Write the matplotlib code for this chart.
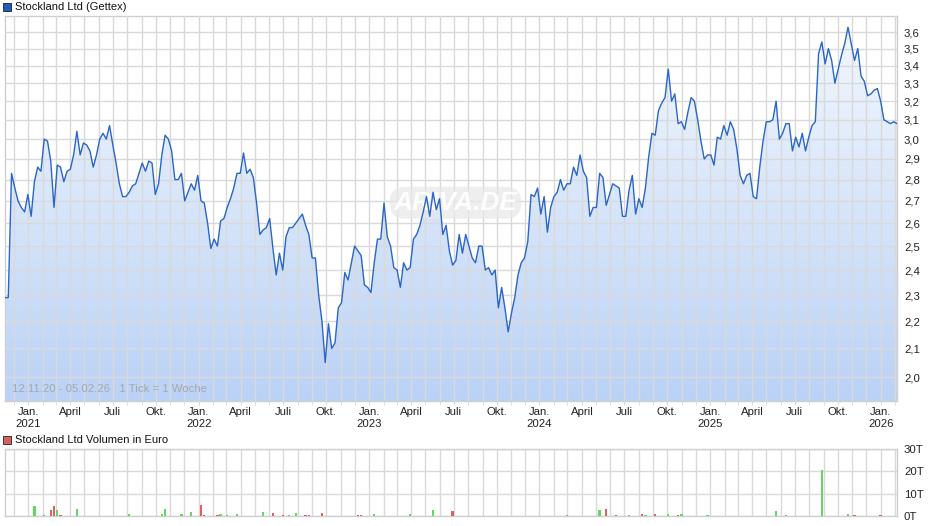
import numpy as np
import matplotlib
matplotlib.use("Agg")
import matplotlib.pyplot as plt
import matplotlib.dates as mdates
from matplotlib.patches import Polygon, Rectangle
from matplotlib.ticker import FixedLocator, NullFormatter
import datetime as dt

plt.rcParams['font.family'] = ['Liberation Sans', 'DejaVu Sans']

# ---------------- data ----------------
start_date = "2020-11-12"
n_weeks = 274
prices = [
    2.29, 2.29, 2.83, 2.76, 2.70, 2.67, 2.65, 2.73, 2.63, 2.79, 2.86, 2.84, 3.00, 2.99, 2.89, 2.67,
    2.87, 2.86, 2.79, 2.84, 2.85, 2.92, 3.04, 2.92, 2.98, 2.97, 2.94, 2.86, 2.92, 3.00, 3.03, 3.00,
    3.07, 2.97, 2.88, 2.78, 2.72, 2.72, 2.74, 2.77, 2.78, 2.83, 2.88, 2.84, 2.89, 2.88,
    2.73, 2.78, 2.92, 3.02, 3.00, 2.94, 2.80, 2.80, 2.83, 2.70, 2.74, 2.78, 2.75, 2.82, 2.70, 2.69,
    2.60, 2.49, 2.53, 2.50, 2.61, 2.62, 2.67, 2.71, 2.76, 2.83, 2.83, 2.93, 2.83, 2.85, 2.81, 2.69,
    2.55, 2.57, 2.58, 2.62, 2.49, 2.38, 2.47, 2.40, 2.54, 2.58, 2.58, 2.60, 2.62,
    2.64, 2.59, 2.55, 2.45, 2.45, 2.30, 2.20, 2.05, 2.19, 2.10, 2.12, 2.25, 2.27, 2.39, 2.36, 2.43,
    2.50, 2.48, 2.46, 2.34, 2.33, 2.31, 2.43, 2.53, 2.53, 2.69, 2.54, 2.50, 2.41, 2.40, 2.33, 2.43,
    2.40, 2.41, 2.53, 2.55, 2.59, 2.65, 2.72, 2.63, 2.74, 2.66, 2.71, 2.55, 2.59, 2.48, 2.42,
    2.44, 2.55, 2.47, 2.55, 2.50, 2.45, 2.43, 2.50, 2.50, 2.40, 2.41, 2.38, 2.40, 2.25, 2.33, 2.25,
    2.16, 2.23, 2.29, 2.38, 2.43, 2.45, 2.52, 2.73, 2.72, 2.76, 2.64, 2.72, 2.56, 2.67, 2.72, 2.74,
    2.80, 2.75, 2.78, 2.78, 2.86, 2.82, 2.92, 2.84, 2.81, 2.63, 2.67, 2.67, 2.83, 2.81,
    2.68, 2.73, 2.78, 2.77, 2.76, 2.63, 2.63, 2.75, 2.82, 2.64, 2.71, 2.67, 2.76, 2.91, 3.03, 3.02,
    3.15, 3.19, 3.22, 3.38, 3.20, 3.24, 3.08, 3.09, 3.05, 3.14, 3.22, 3.20, 3.10, 2.99, 2.90, 2.92,
    2.92, 2.87, 3.01, 3.00, 3.07, 3.02, 3.09, 3.05, 2.95, 2.82, 2.78, 2.82, 2.83,
    2.72, 2.71, 2.86, 2.99, 3.09, 3.09, 3.10, 3.20, 3.00, 3.03, 3.08, 3.08, 2.94, 3.01, 2.96, 3.03,
    2.94, 3.01, 3.07, 3.09, 3.47, 3.54, 3.41, 3.50, 3.43, 3.30, 3.38, 3.46, 3.53, 3.63, 3.53, 3.43,
    3.50, 3.34, 3.31, 3.23, 3.24, 3.26, 3.27, 3.20, 3.10, 3.09, 3.08, 3.09, 3.08,
]

# volume (thousand EUR): week index, value, up(1)/down(0)
vol_weeks = [9, 12, 14, 15, 16, 17, 22, 38, 48, 49, 54, 57, 59, 60, 61, 65, 66, 68, 71, 74,
             79, 82, 85, 86, 87, 89, 92, 93, 97, 100, 102, 108, 109, 113, 114, 116, 122, 124,
             131, 132, 134, 137, 158, 163, 165, 166, 167, 169, 172, 175, 176, 177, 180, 182,
             184, 187, 188, 191, 193, 195, 196, 199, 201, 203, 206, 207, 215, 217, 218, 221,
             225, 231, 236, 239, 242, 246, 250, 258, 260, 261, 262, 265, 266, 268, 269, 270, 271]
vol_values = [4.5, 0.5, 2.7, 4.5, 2.7, 0.5, 3.1, 0.9, 0.9, 3.1, 0.9, 1.8, 0.2, 5.0, 0.5, 0.5,
              0.9, 0.5, 0.9, 0.2, 1.8, 1.3, 0.5, 0.2, 0.5, 1.3, 0.5, 0.5, 1.3, 0.2, 0.2, 0.5,
              0.5, 0.9, 0.2, 0.2, 0.2, 0.9, 2.7, 0.2, 0.2, 2.2, 0.2, 0.2, 0.2, 0.2, 0.2, 0.2,
              0.5, 0.2, 0.2, 0.2, 0.2, 2.7, 3.1, 0.6, 0.2, 0.5, 0.2, 0.9, 0.5, 0.9, 0.2, 0.9,
              0.5, 0.9, 0.5, 0.2, 0.2, 0.2, 0.2, 0.2, 2.2, 0.5, 0.2, 0.2, 20.7, 0.9, 0.5, 0.2,
              0.2, 0.2, 0.2, 0.5, 0.2, 0.2, 0.2]
vol_up = [1, 1, 0, 0, 1, 0, 1, 1, 1, 1, 1, 1, 1, 0, 0, 0, 1, 1, 1, 0,
          1, 0, 0, 1, 1, 1, 0, 0, 0, 0, 1, 0, 0, 1, 1, 1, 1, 1,
          1, 0, 0, 0, 1, 1, 0, 0, 1, 1, 1, 0, 0, 0, 1, 1,
          0, 0, 0, 1, 0, 0, 1, 0, 1, 1, 0, 1, 1, 0, 1, 0,
          0, 1, 1, 1, 1, 1, 1, 1, 0, 1, 0, 1, 1, 0, 0, 0, 0]

y_ticks = [2.0, 2.1, 2.2, 2.3, 2.4, 2.5, 2.6, 2.7, 2.8, 2.9, 3.0, 3.1, 3.2, 3.3, 3.4, 3.5, 3.6]
vol_ticks = [0, 10, 20, 30]
month_names = {1: "Jan.", 4: "April", 7: "Juli", 10: "Okt."}

# ---------------- figure ----------------
d0 = dt.date.fromisoformat(start_date)
dates = [d0 + dt.timedelta(days=7 * i) for i in range(n_weeks)]
xd = mdates.date2num(dates)
prices = np.array(prices)

fig = plt.figure(figsize=(9.40, 5.26), dpi=100)
W, H = 940, 526

def fx(px):
    return px / W

def fy(py):
    return 1 - py / H

ax = fig.add_axes([fx(5), fy(401), fx(897) - fx(5), fy(16) - fy(401)])
ax.set_yscale('log')
ymin, ymax = 1.92, 3.70
ax.set_ylim(ymin, ymax)
ax.set_xlim(xd[0], xd[-1])

grid_col = '#d9d9d9'
months = []
y, m = 2020, 12
while True:
    d = dt.date(y, m, 1)
    if d > dates[-1]:
        break
    months.append(d)
    m += 1
    if m > 12:
        m = 1
        y += 1
mnum = mdates.date2num(months)
major = [d for d in months if d.month in month_names]
ax.xaxis.set_major_locator(FixedLocator(mdates.date2num(major)))
ax.xaxis.set_minor_locator(FixedLocator(mnum))
ax.set_xticklabels([month_names[d.month] + ("\n%d" % d.year if d.month == 1 else "") for d in major],
                   linespacing=1.25)
ax.yaxis.set_major_locator(FixedLocator(y_ticks))
ax.yaxis.set_minor_locator(FixedLocator([]))
ax.yaxis.set_minor_formatter(NullFormatter())
ax.set_yticklabels([("%.1f" % v).replace('.', ',') for v in y_ticks])
ax.yaxis.tick_right()
ax.tick_params(axis='y', which='both', length=0, pad=5, labelsize=8.2, colors='#222222')
ax.tick_params(axis='x', which='both', length=3, color=grid_col, pad=1.5, labelsize=8.2, labelcolor='#222222')
ax.grid(True, which='both', axis='x', color=grid_col, linewidth=1.0)
ax.grid(True, which='major', axis='y', color=grid_col, linewidth=1.0)
ax.set_axisbelow(False)
for s in ax.spines.values():
    s.set_color('#cfcfcf')
    s.set_linewidth(1.0)

# gradient fill under line
grad = np.linspace(0, 1, 256).reshape(-1, 1)
top_c = np.array([244, 248, 254]) / 255
bot_c = np.array([186, 210, 246]) / 255
img = (top_c + (bot_c - top_c) * grad).reshape(256, 1, 3)
im = ax.imshow(img, extent=[0, 1, 0, 1], transform=ax.transAxes, aspect='auto', zorder=1,
               interpolation='bilinear')
verts = list(zip(xd, prices)) + [(xd[-1], ymin), (xd[0], ymin)]
poly = Polygon(verts, closed=True, facecolor='none', edgecolor='none', transform=ax.transData)
ax.add_patch(poly)
im.set_clip_path(poly)
ax.plot(xd, prices, color='#2a66c6', linewidth=1.0, zorder=3)

# watermark
ax.text(0.505, 0.515, "ARIVA.DE", transform=ax.transAxes, fontsize=19, fontstyle='italic',
        fontweight='bold', color='white', alpha=0.9, ha='center', va='center', zorder=2.7,
        bbox=dict(boxstyle='round,pad=0.15,rounding_size=0.6', facecolor='#e8e8e8',
                  edgecolor='none', alpha=0.7))

ax.text(0.008, 0.017, "12.11.20 - 05.02.26   1 Tick = 1 Woche", transform=ax.transAxes,
        fontsize=8.2, color='#a8a8a8', ha='left', va='bottom', zorder=4)

# title legends
fig.patches.append(Rectangle((fx(3), fy(11)), fx(8), 8 / H, transform=fig.transFigure,
                             facecolor='#1f5bbf', edgecolor='#222222', linewidth=0.6))
fig.text(fx(15), fy(7), "Stockland Ltd (Gettex)", fontsize=8.0, color='#111111', va='center', ha='left')
fig.patches.append(Rectangle((fx(3), fy(444)), fx(8), 8 / H, transform=fig.transFigure,
                             facecolor='#d9605c', edgecolor='#222222', linewidth=0.6))
fig.text(fx(15), fy(440), "Stockland Ltd Volumen in Euro", fontsize=8.0, color='#111111',
         va='center', ha='left')

# ---------------- volume ----------------
ax2 = fig.add_axes([fx(5), fy(516), fx(897) - fx(5), fy(449) - fy(516)])
ax2.set_xlim(xd[0], xd[-1])
ax2.set_ylim(0, 30)
vx = [xd[i] for i in vol_weeks]
vcol = ['#62d862' if u else '#d96464' for u in vol_up]
ax2.bar(vx, vol_values, width=5.0, color=vcol, zorder=3, align='center')
ax2.xaxis.set_major_locator(FixedLocator(mnum))
ax2.xaxis.set_major_formatter(NullFormatter())
ax2.yaxis.set_major_locator(FixedLocator(vol_ticks))
ax2.set_yticklabels(["%dT" % v for v in vol_ticks])
ax2.yaxis.tick_right()
ax2.tick_params(axis='y', length=0, pad=5, labelsize=8.2, colors='#222222')
ax2.tick_params(axis='x', length=0)
ax2.grid(True, color=grid_col, linewidth=1.0, zorder=0)
ax2.set_axisbelow(True)
for s in ax2.spines.values():
    s.set_color('#cfcfcf')
    s.set_linewidth(1.0)

fig.savefig("out.png", dpi=100)
